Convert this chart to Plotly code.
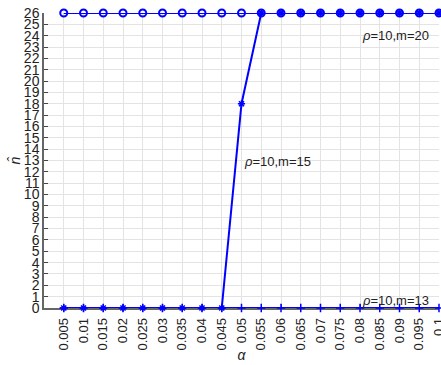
import plotly.graph_objects as go

alpha = [0.005, 0.01, 0.015, 0.02, 0.025, 0.03, 0.035, 0.04, 0.045, 0.05,
         0.055, 0.06, 0.065, 0.07, 0.075, 0.08, 0.085, 0.09, 0.095, 0.1]
x_labels = ["0.005", "0.01", "0.015", "0.02", "0.025", "0.03", "0.035", "0.04", "0.045", "0.05",
            "0.055", "0.06", "0.065", "0.07", "0.075", "0.08", "0.085", "0.09", "0.095", "0.1"]
n_m20 = [26] * 20
n_m15 = [0, 0, 0, 0, 0, 0, 0, 0, 0, 18, 26, 26, 26, 26, 26, 26, 26, 26, 26, 26]
n_m13 = [0] * 20
y_ticks = list(range(0, 27))

blue = "#0000ff"
font = "Liberation Sans, Arial, sans-serif"

fig = go.Figure()
fig.add_trace(go.Scatter(x=alpha, y=n_m13, mode="lines+markers",
                         line=dict(color=blue, width=2),
                         marker=dict(symbol="cross-thin-open", size=6, color=blue,
                                     line=dict(color=blue, width=1.5)),
                         cliponaxis=False, showlegend=False))
fig.add_trace(go.Scatter(x=alpha, y=n_m20, mode="lines+markers",
                         line=dict(color=blue, width=2),
                         marker=dict(symbol="circle-open", size=7, color=blue,
                                     line=dict(color=blue, width=2)),
                         cliponaxis=False, showlegend=False))
fig.add_trace(go.Scatter(x=alpha, y=n_m15, mode="lines+markers",
                         line=dict(color=blue, width=2),
                         marker=dict(symbol="asterisk-open", size=6, color=blue,
                                     line=dict(color=blue, width=1.5)),
                         cliponaxis=False, showlegend=False))

ann_style = dict(showarrow=False, xanchor="left", yanchor="middle",
                 font=dict(family=font, size=13, color="#222222"))
fig.add_annotation(x=0.08, y=24, text="<i>ρ</i>=10,m=20", **ann_style)
fig.add_annotation(x=0.05, y=12.9, text="<i>ρ</i>=10,m=15", **ann_style)
fig.add_annotation(x=0.08, y=0.65, text="<i>ρ</i>=10,m=13", **ann_style)

fig.update_layout(
    width=441, height=365,
    margin=dict(l=44, r=2, t=13, b=57),
    paper_bgcolor="white", plot_bgcolor="white",
    font=dict(family=font, size=13, color="#222222"),
    xaxis=dict(range=[0, 0.1], tickmode="array", tickvals=alpha, ticktext=x_labels,
               tickangle=-90, tickfont=dict(size=13), ticklabelstandoff=3,
               showgrid=True, gridcolor="#e3e3e3", gridwidth=1,
               showline=True, linecolor="#666666", linewidth=1.5,
               ticks="inside", ticklen=4, tickcolor="#444444",
               zeroline=False, automargin=False, ticklabeloverflow="allow",
               layer="below traces",
               title=dict(text="<i>α</i>", font=dict(size=14), standoff=1)),
    yaxis=dict(range=[0, 26], tickmode="array", tickvals=y_ticks,
               tickfont=dict(size=14),
               showgrid=True, gridcolor="#e3e3e3", gridwidth=1,
               showline=True, linecolor="#666666", linewidth=1.5,
               ticks="inside", ticklen=4, tickcolor="#444444",
               zeroline=False, automargin=False, layer="below traces",
               title=dict(text="<i>n\u0302</i>", font=dict(size=14), standoff=0)),
)

fig.write_html("out.html")
